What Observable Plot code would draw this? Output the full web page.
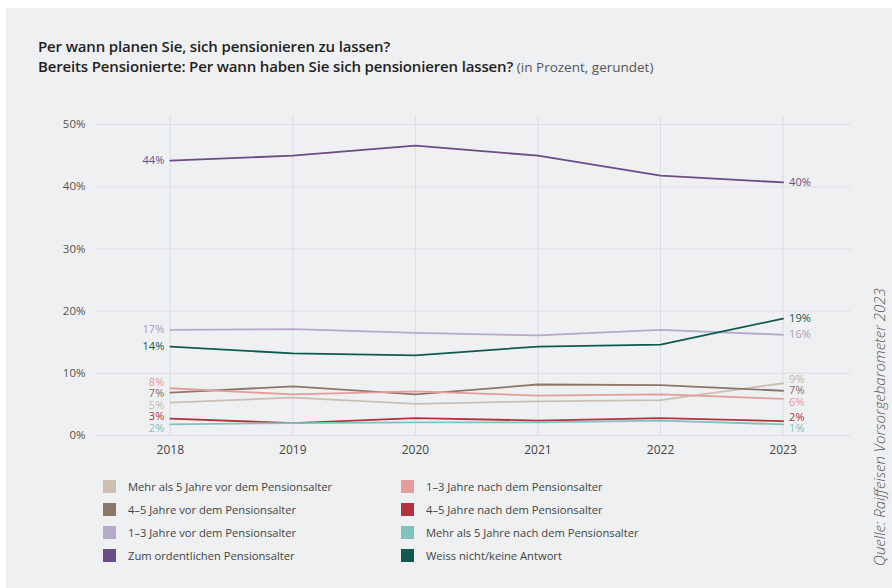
<!DOCTYPE html>
<html>
<head>
<meta charset="utf-8">
<script src="https://cdn.jsdelivr.net/npm/d3@7"></script>
<script src="https://cdn.jsdelivr.net/npm/@observablehq/plot@0.6"></script>
<style>
  html, body { margin: 0; padding: 0; background: #ffffff; }
  body { width: 892px; height: 588px; position: relative; overflow: hidden; font-family: "Open Sans", sans-serif; }
  #panel { position: absolute; left: 6px; top: 8px; width: 886px; height: 580px; background: #eff0f2; }
  #title { position: absolute; left: 38px; top: 36px; font-size: 15px; line-height: 20px; color: #1f1f1f; font-weight: 600; letter-spacing: -0.15px; }
  #title .light { font-weight: 400; color: #555; font-size: 13.5px; letter-spacing: 0; }
  #chart { position: absolute; left: 0; top: 100px; }
  #legend { position: absolute; left: 103px; top: 480px; display: grid; grid-template-columns: 298px 300px; row-gap: 10px; font-size: 11.2px; color: #444; }
  .item { display: flex; align-items: center; height: 13px; }
  .sw { width: 13px; height: 13px; margin-right: 12px; flex: none; }
  #source { position: absolute; left: 879px; top: 427px; transform: translate(-50%, -50%) rotate(-90deg); white-space: nowrap; font-style: italic; font-size: 15px; line-height: 18px; color: #555; font-weight: 300; }
</style>
</head>
<body>
<div id="panel"></div>
<div id="title">Per wann planen Sie, sich pensionieren zu lassen?<br>Bereits Pensionierte: Per wann haben Sie sich pensionieren lassen? <span class="light">(in Prozent, gerundet)</span></div>
<div id="chart"></div>
<div id="legend"></div>
<div id="source">Quelle: Raiffeisen Vorsorgebarometer 2023</div>
<script>
const years = [2018, 2019, 2020, 2021, 2022, 2023];
const seriesNames = [
  "Mehr als 5 Jahre vor dem Pensionsalter",
  "4–5 Jahre vor dem Pensionsalter",
  "1–3 Jahre vor dem Pensionsalter",
  "Zum ordentlichen Pensionsalter",
  "1–3 Jahre nach dem Pensionsalter",
  "4–5 Jahre nach dem Pensionsalter",
  "Mehr als 5 Jahre nach dem Pensionsalter",
  "Weiss nicht/keine Antwort"
];
const seriesColors = ["#cbbfb4", "#8b766b", "#b6aac9", "#6a4c86", "#e69c9c", "#b2333d", "#7fc2c0", "#0e5a4d"];
const labelColors  = ["#c4b8ad", "#7f6c62", "#a99dbd", "#6a4c86", "#e39a9a", "#b2333d", "#7fc2c0", "#0e5a4d"];

const valsMehr5Vor   = [5.3, 6.1, 5.1, 5.5, 5.7, 8.4];
const vals45Vor      = [6.9, 7.9, 6.6, 8.2, 8.1, 7.2];
const vals13Vor      = [17.0, 17.1, 16.5, 16.1, 17.0, 16.2];
const valsOrdentlich = [44.2, 45.0, 46.6, 45.0, 41.8, 40.7];
const vals13Nach     = [7.6, 6.6, 7.1, 6.4, 6.6, 5.9];
const vals45Nach     = [2.7, 2.0, 2.8, 2.4, 2.8, 2.3];
const valsMehr5Nach  = [1.8, 2.0, 2.1, 2.1, 2.4, 1.8];
const valsWeiss      = [14.3, 13.2, 12.9, 14.3, 14.6, 18.8];

const startLabels = [5, 7, 17, 44, 8, 3, 2, 14];
const endLabels   = [9, 7, 16, 40, 6, 2, 1, 19];

const yTicks = [0, 10, 20, 30, 40, 50];

const allVals = [valsMehr5Vor, vals45Vor, vals13Vor, valsOrdentlich, vals13Nach, vals45Nach, valsMehr5Nach, valsWeiss];

const data = [];
seriesNames.forEach((s, i) => years.forEach((yr, j) => data.push({series: s, idx: i, year: yr, value: allVals[i][j]})));

// simple label dodge in data units
function dodge(items, gap) {
  const arr = items.map(d => ({...d, pos: d.value}));
  for (let it = 0; it < 300; it++) {
    arr.sort((a, b) => b.pos - a.pos);
    let moved = false;
    for (let k = 0; k < arr.length - 1; k++) {
      const a = arr[k], b = arr[k + 1];
      const diff = a.pos - b.pos;
      if (diff < gap) {
        const push = (gap - diff) / 2 + 0.001;
        a.pos += push; b.pos -= push; moved = true;
      }
    }
    if (!moved) break;
  }
  return arr;
}
const startItems = dodge(seriesNames.map((s, i) => ({idx: i, value: allVals[i][0], label: startLabels[i] + "%"})), 1.85);
const endItems = dodge(seriesNames.map((s, i) => ({idx: i, value: allVals[i][years.length - 1], label: endLabels[i] + "%"})), 1.85);

const yMax = 51.3;
const chart = Plot.plot({
  width: 870,
  height: 360,
  marginLeft: 95,
  marginRight: 20,
  marginTop: 16,
  marginBottom: 25,
  style: {fontFamily: "Open Sans, sans-serif", fontSize: "11px", color: "#555", background: "transparent", overflow: "visible"},
  x: {domain: [2017.39, 2023.55], ticks: years, tickFormat: d => String(d), tickSize: 0, tickPadding: 11, label: null},
  y: {domain: [0, yMax], ticks: yTicks, tickFormat: d => d + "%", tickSize: 0, tickPadding: 10, label: null},
  marks: [
    Plot.ruleY(yTicks, {stroke: "#dcdee2", strokeWidth: 1}),
    Plot.ruleX(years, {y1: 0, y2: yMax, stroke: "#dcdee2", strokeWidth: 1}),
    Plot.axisY({ticks: yTicks, tickFormat: d => d + "%", tickSize: 0, tickPadding: 10, fill: "#555", fontSize: 11.5}),
    Plot.axisX({ticks: years, tickFormat: d => String(d), tickSize: 0, tickPadding: 10, fill: "#444", fontSize: 12}),
    Plot.line(data, {x: "year", y: "value", z: "series", stroke: d => seriesColors[d.idx], strokeWidth: 1.8}),
    Plot.text(startItems, {x: () => years[0], y: "pos", text: "label", fill: d => labelColors[d.idx], textAnchor: "end", dx: -6, fontSize: 11}),
    Plot.text(endItems, {x: () => years[years.length - 1], y: "pos", text: "label", fill: d => labelColors[d.idx], textAnchor: "start", dx: 6, fontSize: 11})
  ]
});
document.getElementById("chart").appendChild(chart);

// legend: column-major order, 4 rows
const legend = document.getElementById("legend");
const order = [0, 4, 1, 5, 2, 6, 3, 7];
order.forEach(i => {
  const el = document.createElement("div");
  el.className = "item";
  el.innerHTML = `<span class="sw" style="background:${seriesColors[i]}"></span><span>${seriesNames[i]}</span>`;
  legend.appendChild(el);
});
</script>
</body>
</html>
